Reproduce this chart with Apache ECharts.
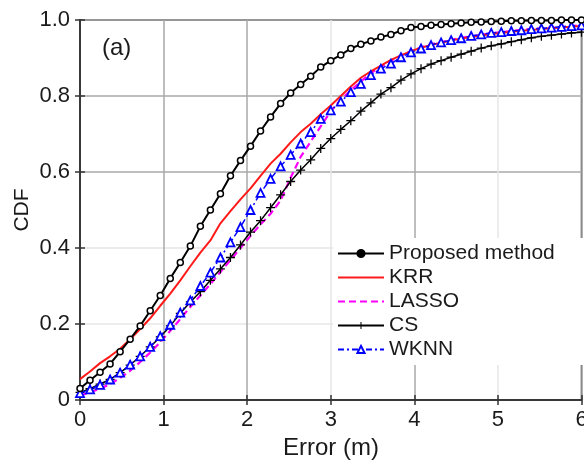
<!DOCTYPE html>
<html>
<head>
<meta charset="utf-8">
<script src="https://cdn.jsdelivr.net/npm/echarts@6/dist/echarts.min.js"></script>
<style>html,body{margin:0;padding:0;background:#fff}#c{width:584px;height:464px}</style>
</head>
<body>
<div id="c"></div>
<script>
const seriesNames = ['Proposed method', 'KRR', 'LASSO', 'CS', 'WKNN'];
const xTicks = [0, 1, 2, 3, 4, 5, 6];
const yTicks = [0, 0.2, 0.4, 0.6, 0.8, 1.0];
const errorX = [0, 0.12, 0.24, 0.36, 0.48, 0.60, 0.72, 0.84, 0.96, 1.08, 1.20, 1.32, 1.44, 1.56, 1.68, 1.80, 1.92, 2.04, 2.16, 2.28, 2.40, 2.52, 2.64, 2.76, 2.88, 3.00, 3.12, 3.24, 3.36, 3.48, 3.60, 3.72, 3.84, 3.96, 4.08, 4.20, 4.32, 4.44, 4.56, 4.68, 4.80, 4.92, 5.04, 5.16, 5.28, 5.40, 5.52, 5.64, 5.76, 5.88, 6.00];
const proposed = [0.03, 0.052, 0.073, 0.095, 0.127, 0.16, 0.195, 0.235, 0.275, 0.32, 0.362, 0.405, 0.457, 0.5, 0.543, 0.59, 0.63, 0.668, 0.708, 0.745, 0.78, 0.808, 0.83, 0.852, 0.876, 0.893, 0.908, 0.925, 0.936, 0.945, 0.955, 0.962, 0.972, 0.98, 0.983, 0.986, 0.988, 0.99, 0.992, 0.994, 0.995, 0.996, 0.997, 0.998, 0.998, 0.999, 0.999, 0.999, 1, 1, 1];
const krr = [0.055, 0.075, 0.097, 0.115, 0.135, 0.16, 0.187, 0.215, 0.248, 0.28, 0.315, 0.352, 0.388, 0.42, 0.465, 0.497, 0.528, 0.557, 0.59, 0.622, 0.648, 0.678, 0.705, 0.727, 0.752, 0.775, 0.8, 0.825, 0.848, 0.865, 0.88, 0.895, 0.907, 0.918, 0.927, 0.934, 0.94, 0.946, 0.951, 0.955, 0.959, 0.963, 0.966, 0.969, 0.972, 0.974, 0.976, 0.978, 0.98, 0.982, 0.984];
const lasso = [0.012, 0.02, 0.03, 0.042, 0.058, 0.077, 0.1, 0.125, 0.152, 0.182, 0.213, 0.245, 0.275, 0.305, 0.337, 0.368, 0.4, 0.432, 0.462, 0.49, 0.525, 0.585, 0.64, 0.68, 0.72, 0.76, 0.79, 0.815, 0.838, 0.86, 0.877, 0.893, 0.906, 0.918, 0.928, 0.936, 0.942, 0.948, 0.953, 0.957, 0.961, 0.965, 0.968, 0.971, 0.974, 0.976, 0.978, 0.98, 0.982, 0.984, 0.986];
const cs = [0.02, 0.03, 0.042, 0.054, 0.072, 0.092, 0.115, 0.14, 0.166, 0.195, 0.228, 0.258, 0.285, 0.315, 0.345, 0.375, 0.408, 0.442, 0.472, 0.506, 0.54, 0.575, 0.605, 0.632, 0.662, 0.688, 0.712, 0.735, 0.76, 0.782, 0.805, 0.822, 0.842, 0.858, 0.872, 0.884, 0.893, 0.902, 0.91, 0.918, 0.926, 0.932, 0.937, 0.943, 0.948, 0.953, 0.957, 0.96, 0.963, 0.966, 0.968];
const wknn = [0.018, 0.028, 0.04, 0.054, 0.072, 0.093, 0.115, 0.14, 0.168, 0.198, 0.23, 0.262, 0.3, 0.335, 0.375, 0.415, 0.455, 0.5, 0.545, 0.582, 0.615, 0.645, 0.675, 0.705, 0.74, 0.762, 0.785, 0.81, 0.832, 0.855, 0.872, 0.885, 0.902, 0.915, 0.925, 0.934, 0.941, 0.947, 0.952, 0.958, 0.962, 0.966, 0.968, 0.971, 0.973, 0.976, 0.978, 0.98, 0.982, 0.984, 0.986];

const pair = ys => errorX.map((x, i) => [x, ys[i]]);
const plus = 'path://M0,4.3h10v1.4h-10z M4.3,0h1.4v10h-1.4z';
const FONT = 'Liberation Sans, Arial, sans-serif';
const DARK = '#a8a8a8', LIGHT = '#e6e6e6';
const TXT = '#1a1a1a';

const chart = echarts.init(document.getElementById('c'), null, {renderer: 'canvas'});
chart.setOption({
  animation: false,
  backgroundColor: '#fff',
  grid: {left: 80, right: 2.5, top: 20, bottom: 64, outerBoundsMode: 'none', containLabel: false,
    show: true, borderColor: '#333', borderWidth: 1.5, backgroundColor: 'transparent'},
  xAxis: [{
    type: 'value', min: xTicks[0], max: xTicks[xTicks.length - 1], interval: 1,
    axisLine: {show: true, onZero: false, lineStyle: {color: '#333', width: 1.5}},
    axisTick: {show: true, inside: true, length: 5, lineStyle: {color: '#333', width: 1.5}},
    axisLabel: {color: TXT, fontSize: 22, fontFamily: FONT, margin: 9, showMaxLabel: true, hideOverlap: false},
    splitLine: {show: true, lineStyle: {color: [DARK, DARK, DARK, LIGHT, DARK, LIGHT, DARK], width: 1.5}}
  }, {
    type: 'value', position: 'top', min: 0, max: 6, interval: 1,
    axisLine: {show: true, lineStyle: {color: '#333', width: 1.5}},
    axisTick: {show: true, inside: true, length: 5, lineStyle: {color: '#333', width: 1.5}},
    axisLabel: {show: false}, splitLine: {show: false}
  }],
  yAxis: [{
    type: 'value', min: yTicks[0], max: yTicks[yTicks.length - 1], interval: 0.2,
    axisLine: {show: true, onZero: false, lineStyle: {color: '#333', width: 1.5}},
    axisTick: {show: true, inside: true, length: 5, lineStyle: {color: '#333', width: 1.5}},
    axisLabel: {color: TXT, fontSize: 22, fontFamily: FONT, margin: 10, formatter: v => v === 0 ? '0' : v.toFixed(1)},
    splitLine: {show: true, lineStyle: {color: [DARK, LIGHT, LIGHT, DARK, DARK, DARK], width: 1.5}}
  }, {
    type: 'value', position: 'right', min: 0, max: 1, interval: 0.2,
    axisLine: {show: true, lineStyle: {color: '#333', width: 1.5}},
    axisTick: {show: true, inside: true, length: 5, lineStyle: {color: '#333', width: 1.5}},
    axisLabel: {show: false}, splitLine: {show: false}
  }],
  legend: {
    orient: 'vertical', left: 333, top: 238, backgroundColor: '#fff',
    padding: [5, 40, 5, 4], itemGap: 3, itemWidth: 46, itemHeight: 9,
    textStyle: {fontSize: 21, fontFamily: FONT, color: TXT},
    data: [
      {name: seriesNames[0], itemStyle: {color: '#000', borderColor: '#000'}},
      {name: seriesNames[1], itemStyle: {opacity: 0}},
      {name: seriesNames[2], itemStyle: {opacity: 0}},
      {name: seriesNames[3]},
      {name: seriesNames[4]}
    ]
  },
  graphic: [
    {type: 'text', left: 102, top: 36, style: {text: '(a)', fontSize: 24, fontFamily: FONT, fill: TXT}},
    {type: 'text', x: 22, y: 210, rotation: Math.PI / 2, style: {text: 'CDF', fontSize: 21, fontFamily: FONT, fill: TXT, align: 'center', verticalAlign: 'middle'}},
    {type: 'text', x: 331, y: 448, style: {text: 'Error (m)', fontSize: 24, fontFamily: FONT, fill: TXT, align: 'center', verticalAlign: 'middle'}}
  ],
  series: [
    {name: seriesNames[0], type: 'line', data: pair(proposed), z: 6,
      symbol: 'circle', symbolSize: 6, showAllSymbol: true,
      lineStyle: {color: '#000', width: 2}, itemStyle: {color: '#fff', borderColor: '#000', borderWidth: 1.5}},
    {name: seriesNames[1], type: 'line', data: pair(krr), z: 3, symbol: 'none',
      lineStyle: {color: '#ff1a1a', width: 2}, itemStyle: {color: '#ff1a1a'}},
    {name: seriesNames[2], type: 'line', data: pair(lasso), z: 2, symbol: 'none',
      lineStyle: {color: '#ff00ff', width: 2.2, type: [7, 4]}, itemStyle: {color: '#ff00ff'}},
    {name: seriesNames[3], type: 'line', data: pair(cs), z: 4,
      symbol: plus, symbolSize: 9, showAllSymbol: true,
      lineStyle: {color: '#000', width: 1.5}, itemStyle: {color: '#000'}},
    {name: seriesNames[4], type: 'line', data: pair(wknn), z: 5,
      symbol: 'triangle', symbolSize: 8, showAllSymbol: true,
      lineStyle: {color: '#0000ff', width: 1.5, type: [6, 3, 2, 3]}, itemStyle: {color: '#fff', borderColor: '#0000ff', borderWidth: 1.8}}
  ]
});
</script>
</body>
</html>
